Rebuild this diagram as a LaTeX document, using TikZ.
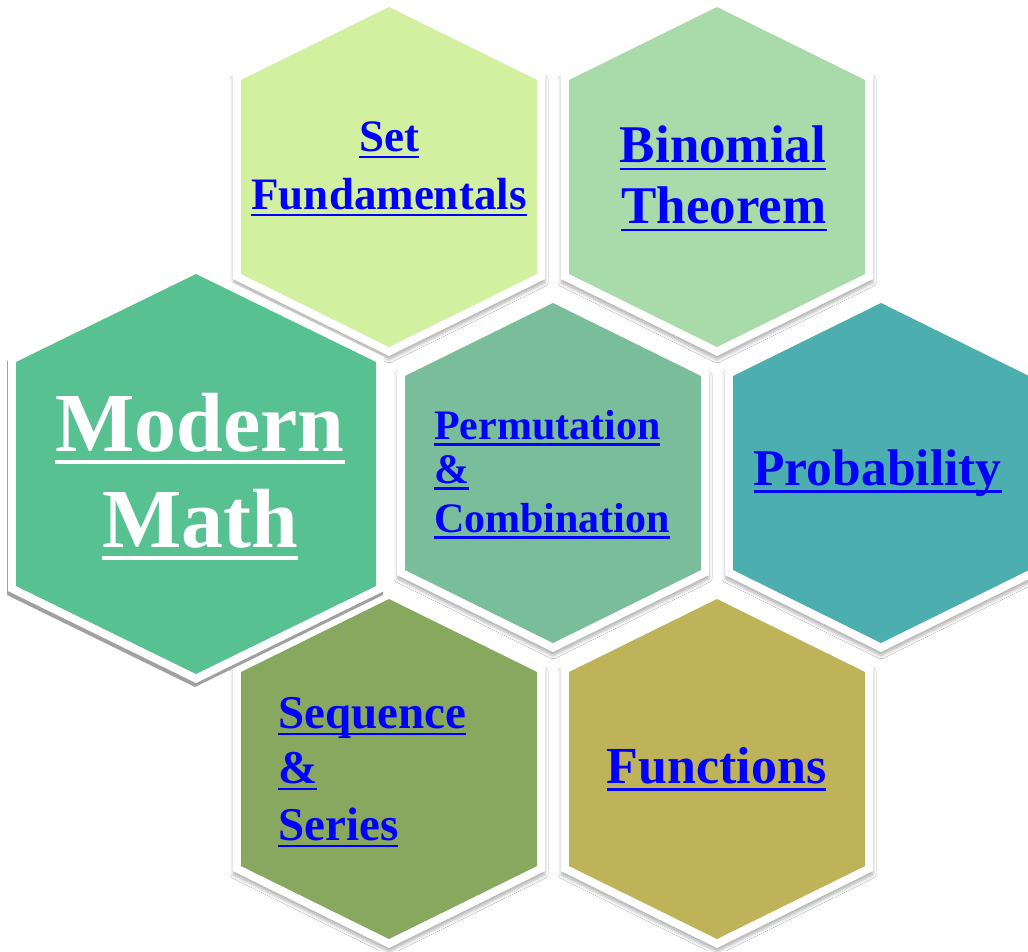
\documentclass[tikz,border=0pt]{standalone}
\usepackage{fontspec}
\setmainfont{Liberation Serif}
\usetikzlibrary{shadows.blur}
\definecolor{cMM}{RGB}{87,193,146}
\definecolor{cSF}{RGB}{210,240,160}
\definecolor{cBT}{RGB}{169,218,169}
\definecolor{cPC}{RGB}{121,189,154}
\definecolor{cPR}{RGB}{76,174,174}
\definecolor{cSS}{RGB}{136,168,95}
\definecolor{cFN}{RGB}{191,179,90}
\definecolor{linkblue}{RGB}{0,0,255}
\definecolor{shadowgray}{RGB}{160,160,160}
\newcommand\hul[1]{\setbox0\hbox{#1}\rlap{\rule[-0.155em]{\wd0}{0.05em}}\box0}
\newcommand\hexshape[3]{(0,-#2) -- (#1,-#3) -- (#1,#3) -- (0,#2) -- (-#1,#3) -- (-#1,-#3) -- cycle}
\tikzset{
  hexborder/.style={fill=white, blur shadow={shadow xshift=0pt, shadow yshift=-4pt, shadow blur radius=3pt, shadow opacity=28}},
  lk/.style={text=linkblue, inner sep=0pt},
  mmtxt/.style={text=white, inner sep=0pt},
}
\newcommand\smallhex[2]{%
  \begin{scope}[shift={(#1)}]
    \path[hexborder] \hexshape{156}{179}{102};
    \fill[#2] \hexshape{148}{170}{97};
  \end{scope}}
\begin{document}
\begin{tikzpicture}[x=1pt,y=-1pt]
\useasboundingbox (0,0) rectangle (1028,951);
\fill[white] (0,0) rectangle (1028,951);
% centres
\coordinate (sf) at (389,177);
\coordinate (bt) at (717,177);
\coordinate (pc) at (553,473);
\coordinate (pr) at (881,473);
\coordinate (ss) at (389,769);
\coordinate (fn) at (717,769);
\coordinate (mm) at (196,474);
% hexagons
\smallhex{sf}{cSF}
\smallhex{bt}{cBT}
\smallhex{pc}{cPC}
\smallhex{pr}{cPR}
\smallhex{ss}{cSS}
\smallhex{fn}{cFN}
\begin{scope}[shift={(mm)}]
  \fill[shadowgray, shift={(-1,4)}] \hexshape{188}{209}{117};
  \fill[white] \hexshape{188}{209}{117};
  \fill[cMM] \hexshape{180}{200}{112};
\end{scope}
% texts
\node[lk, font=\fontsize{45}{54}\selectfont\bfseries, anchor=base] (sf1) at (389,151) {\hul{Set}};
\node[lk, font=\fontsize{45}{54}\selectfont\bfseries, anchor=base] (sf2) at (389,209) {\hul{Fundamentals}};
\node[lk, font=\fontsize{53}{62}\selectfont\bfseries, anchor=base] (bt1) at (723,162) {\hul{Binomial}};
\node[lk, font=\fontsize{53}{62}\selectfont\bfseries, anchor=base] (bt2) at (724,223) {\hul{Theorem}};
\node[mmtxt, font=\fontsize{84}{96}\selectfont\bfseries, anchor=base] (mm1) at (200,451) {\hul{Modern}};
\node[mmtxt, font=\fontsize{84}{96}\selectfont\bfseries, anchor=base] (mm2) at (200,547) {\hul{Math}};
\node[lk, font=\fontsize{42}{48}\selectfont\bfseries, anchor=base west] (pc1) at (434,439) {\hul{Permutation}};
\node[lk, font=\fontsize{42}{48}\selectfont\bfseries, anchor=base west] (pc2) at (434,483) {\hul{\&}};
\node[lk, font=\fontsize{42}{48}\selectfont\bfseries, anchor=base west] (pc3) at (434,532) {\hul{Combination}};
\node[lk, font=\fontsize{51.5}{60}\selectfont\bfseries, anchor=base] (pr1) at (877.5,485) {\hul{Probability}};
\node[lk, font=\fontsize{47}{56}\selectfont\bfseries, anchor=base west] (ss1) at (278,728) {\hul{Sequence}};
\node[lk, font=\fontsize{47}{56}\selectfont\bfseries, anchor=base west] (ss2) at (278,783) {\hul{\&}};
\node[lk, font=\fontsize{47}{56}\selectfont\bfseries, anchor=base west] (ss3) at (278,840) {\hul{Series}};
\node[lk, font=\fontsize{52}{60}\selectfont\bfseries, anchor=base] (fn1) at (716.5,783) {\hul{Functions}};
\end{tikzpicture}
\end{document}
